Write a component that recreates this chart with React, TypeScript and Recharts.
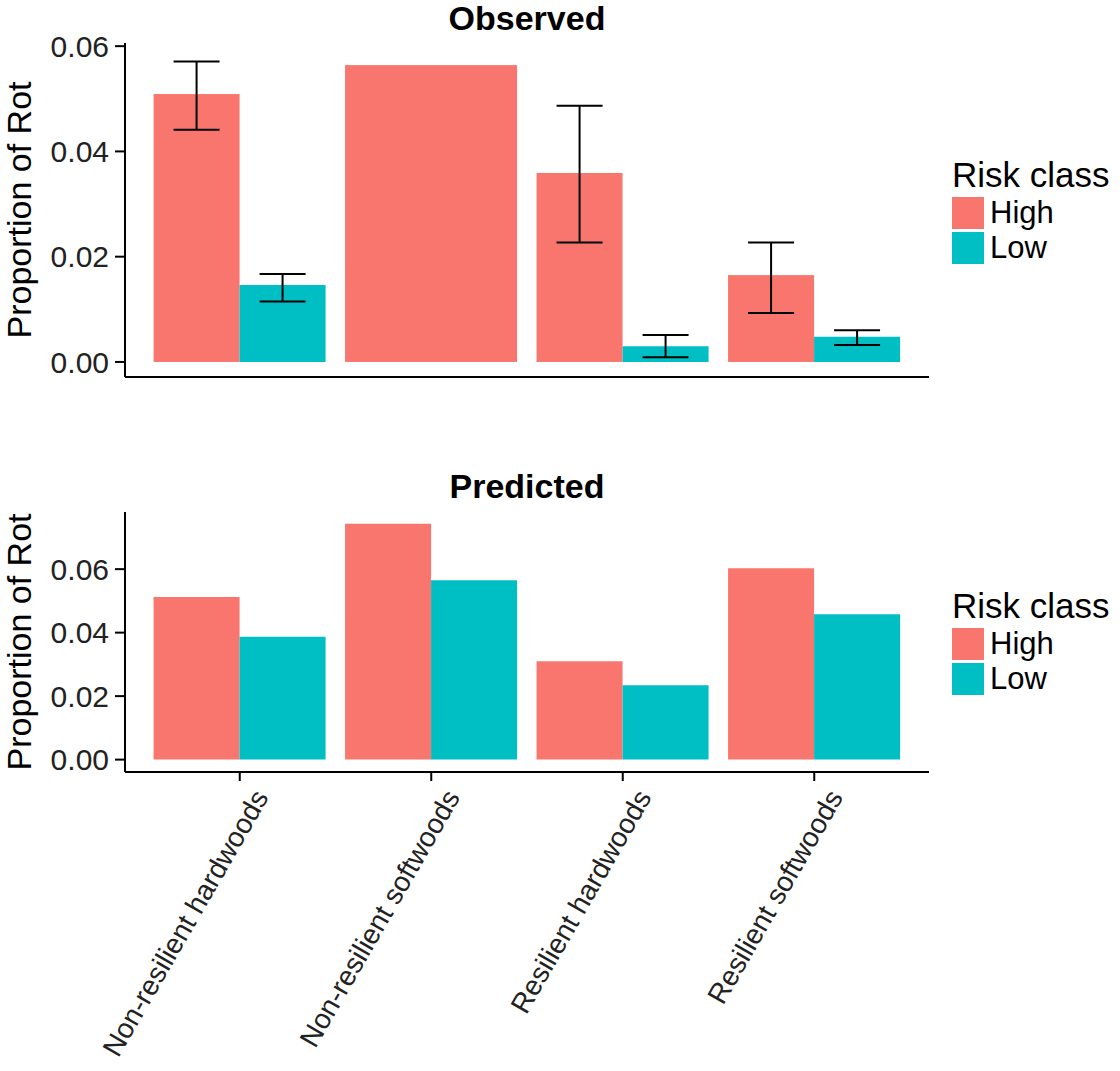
import { BarChart, Bar, XAxis, YAxis, ErrorBar } from 'recharts'

const categories = [
  'Non-resilient hardwoods',
  'Non-resilient softwoods',
  'Resilient hardwoods',
  'Resilient softwoods',
]
const riskClasses = ['High', 'Low']
const riskColors = ['#F8766D', '#00BFC4']

// observed proportions, with error-bar limits
const obsHigh = [0.0509, 0.0564, 0.0359, 0.0165]
const obsHighLower = [0.0441, null, 0.0227, 0.0093]
const obsHighUpper = [0.0571, null, 0.0487, 0.0227]
const obsLow = [0.0146, null, 0.003, 0.0048]
const obsLowLower = [0.0115, null, 0.0009, 0.0032]
const obsLowUpper = [0.0167, null, 0.0051, 0.006]

// predicted proportions
const predHigh = [0.0512, 0.0743, 0.031, 0.0603]
const predLow = [0.0387, 0.0565, 0.0234, 0.0458]

const obsTicks = [0, 0.02, 0.04, 0.06]
const predTicks = [0, 0.02, 0.04, 0.06]

const FONT = '"Liberation Sans", Arial, sans-serif'

const err = (v: number | null, lo: number | null, hi: number | null) =>
  v == null || lo == null || hi == null ? null : [v - lo, hi - v]

const observed = categories.map((cat, i) => ({
  cat,
  high: obsHigh[i],
  low: obsLow[i],
  highErr: err(obsHigh[i], obsHighLower[i], obsHighUpper[i]),
  lowErr: err(obsLow[i], obsLowLower[i], obsLowUpper[i]),
}))

const predicted = categories.map((cat, i) => ({
  cat,
  high: predHigh[i],
  low: predLow[i],
}))

// when the Low bar is missing the High bar takes the whole dodge width
const HighShape = (p: any) => {
  const wide = p.payload && p.payload.low == null
  return (
    <rect
      x={p.x}
      y={p.y}
      width={wide ? p.width * 2 : p.width}
      height={p.height}
      fill={p.fill}
    />
  )
}

const axisStyle = { stroke: '#000', strokeWidth: 2 }

const YTitle = (props: any) => {
  const vb = props.viewBox
  const cy = vb.y + vb.height / 2
  return (
    <text
      x={31}
      y={cy}
      transform={`rotate(-90, 31, ${cy})`}
      textAnchor="middle"
      fontSize={34}
      fontFamily={FONT}
      fill="#000"
    >
      Proportion of Rot
    </text>
  )
}

const CatTick = (props: any) => {
  const { x, y, payload } = props
  return (
    <g transform={`translate(${x + 12},${y + 4})`}>
      <text
        transform="rotate(-60)"
        textAnchor="end"
        dy="0.72em"
        fontSize={28}
        fontFamily={FONT}
        fill="#222"
      >
        {payload.value}
      </text>
    </g>
  )
}

function RiskLegend({ top }: { top: number }) {
  return (
    <div style={{ position: 'absolute', left: 952, top, fontFamily: FONT }}>
      <div style={{ fontSize: 35, lineHeight: 1, whiteSpace: 'nowrap' }}>Risk class</div>
      {riskClasses.map((name, i) => (
        <div
          key={name}
          style={{ display: 'flex', alignItems: 'center', height: 35, marginTop: i === 0 ? 3 : 0 }}
        >
          <div style={{ width: 32, height: 32, background: riskColors[i] }} />
          <span style={{ fontSize: 31, marginLeft: 6, lineHeight: 1 }}>{name}</span>
        </div>
      ))}
    </div>
  )
}

const title = (text: string, top: number) => (
  <div
    style={{
      position: 'absolute',
      left: 327,
      width: 400,
      top,
      textAlign: 'center',
      fontFamily: FONT,
      fontWeight: 'bold',
      fontSize: 34,
      lineHeight: 1,
    }}
  >
    {text}
  </div>
)

export default function App() {
  return (
    <div
      style={{
        position: 'absolute',
        left: 0,
        top: 0,
        width: 1120,
        height: 1071,
        background: '#fff',
        overflow: 'hidden',
      }}
    >
      {title('Observed', 1)}
      {title('Predicted', 469)}

      <div style={{ position: 'absolute', left: 0, top: 0 }}>
        <BarChart
          width={1120}
          height={400}
          data={observed}
          margin={{ top: 43, right: 191, left: 0, bottom: 0 }}
          barCategoryGap="5%"
          barGap={0}
        >
          <XAxis
            dataKey="cat"
            height={23}
            padding={{ left: 19, right: 19 }}
            tick={false}
            tickSize={9}
            axisLine={axisStyle}
            tickLine={axisStyle}
          />
          <YAxis
            width={125}
            type="number"
            domain={[-0.00286, 0.0606]}
            allowDataOverflow
            ticks={obsTicks}
            tickFormatter={(v: number) => v.toFixed(2)}
            tickSize={10}
            tickMargin={6}
            tick={{ fontSize: 30, fontFamily: FONT, fill: '#222' }}
            axisLine={axisStyle}
            tickLine={axisStyle}
            label={{ content: YTitle }}
          />
          <Bar dataKey="high" fill={riskColors[0]} shape={HighShape} isAnimationActive={false}>
            <ErrorBar dataKey="highErr" direction="y" width={23} stroke="#000" strokeWidth={2} />
          </Bar>
          <Bar dataKey="low" fill={riskColors[1]} isAnimationActive={false}>
            <ErrorBar dataKey="lowErr" direction="y" width={23} stroke="#000" strokeWidth={2} />
          </Bar>
        </BarChart>
      </div>

      <div style={{ position: 'absolute', left: 0, top: 440 }}>
        <BarChart
          width={1120}
          height={631}
          data={predicted}
          margin={{ top: 72, right: 191, left: 0, bottom: 0 }}
          barCategoryGap="5%"
          barGap={0}
        >
          <XAxis
            dataKey="cat"
            height={299}
            padding={{ left: 19, right: 19 }}
            interval={0}
            tick={<CatTick />}
            tickSize={9}
            axisLine={axisStyle}
            tickLine={axisStyle}
          />
          <YAxis
            width={125}
            type="number"
            domain={[-0.0039, 0.078]}
            allowDataOverflow
            ticks={predTicks}
            tickFormatter={(v: number) => v.toFixed(2)}
            tickSize={10}
            tickMargin={6}
            tick={{ fontSize: 30, fontFamily: FONT, fill: '#222' }}
            axisLine={axisStyle}
            tickLine={axisStyle}
            label={{ content: YTitle }}
          />
          <Bar dataKey="high" fill={riskColors[0]} isAnimationActive={false} />
          <Bar dataKey="low" fill={riskColors[1]} isAnimationActive={false} />
        </BarChart>
      </div>

      <RiskLegend top={157} />
      <RiskLegend top={588} />
    </div>
  )
}
